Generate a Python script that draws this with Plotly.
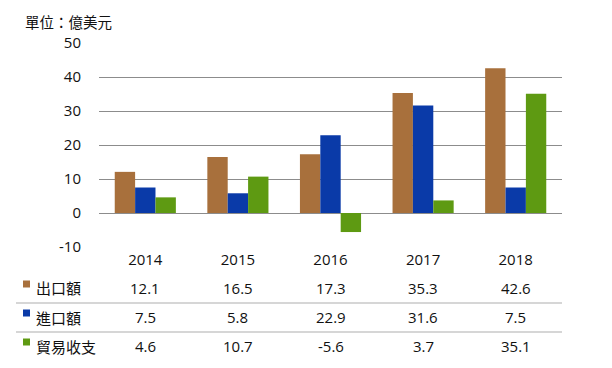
import plotly.graph_objects as go

years = ["2014", "2015", "2016", "2017", "2018"]
series_names = ["出口額", "進口額", "貿易收支"]
exports = [12.1, 16.5, 17.3, 35.3, 42.6]
imports = [7.5, 5.8, 22.9, 31.6, 7.5]
balance = [4.6, 10.7, -5.6, 3.7, 35.1]
colors = ["#A8703C", "#0A3AA8", "#5E9A12"]
unit_label = "單位：億美元"
y_ticks = [-10, 0, 10, 20, 30, 40, 50]
y_tick_text = ["-10", "0", "10", "20", "30", "40", "50"]

series_values = [exports, imports, balance]

# page body offset (default html body margin)
OFF = 8
W, H = 612, 368
# desired plot area in screen pixels
SX0, SX1, SY0, SY1 = 99, 562, 43, 247
L = SX0 - OFF
T = SY0 - OFF
PW = SX1 - SX0
PH = SY1 - SY0
R = W - L - PW
B = H - T - PH

def px_x(p):
    return (p - SX0) / PW

def px_y(p):
    return (SY1 - p) / PH

NUM_FONT = "Open Sans, Noto Sans CJK TC, sans-serif"
CJK_FONT = "Noto Sans CJK TC, sans-serif"

fig = go.Figure()
for name, vals, col in zip(series_names, series_values, colors):
    fig.add_trace(go.Bar(x=years, y=vals, name=name, marker=dict(color=col, line=dict(width=0)),
                         hoverinfo="x+y+name"))

annotations = []
shapes = []
row_y = [287.5, 317, 346]
marker_y = [284, 313, 342]
for i, (name, vals, col) in enumerate(zip(series_names, series_values, colors)):
    annotations.append(dict(x=px_x(34), y=px_y(row_y[i]), xref="paper", yref="paper",
                            text=name, showarrow=False, xanchor="left", yanchor="middle",
                            font=dict(family=CJK_FONT, size=15, color="#111")))
    shapes.append(dict(type="rect", xref="paper", yref="paper",
                       x0=px_x(23), x1=px_x(30), y0=px_y(marker_y[i] + 3.5), y1=px_y(marker_y[i] - 3.5),
                       fillcolor=col, line=dict(width=0)))
    for j, v in enumerate(vals):
        annotations.append(dict(x=j, y=px_y(row_y[i]), xref="x", yref="paper",
                                text=f"{v}", showarrow=False, xanchor="center", yanchor="middle",
                                font=dict(family=NUM_FONT, size=15, color="#111")))

for sep in [303, 332]:
    shapes.append(dict(type="line", xref="paper", yref="paper", x0=px_x(16), x1=1,
                       y0=px_y(sep), y1=px_y(sep), line=dict(color="#C8C8C8", width=1.5)))

annotations.append(dict(x=px_x(23), y=px_y(22), xref="paper", yref="paper", text=unit_label,
                        showarrow=False, xanchor="left", yanchor="middle",
                        font=dict(family=CJK_FONT, size=14.5, color="#111")))

fig.update_layout(
    width=W, height=H,
    margin=dict(l=L, r=R, t=T, b=B, autoexpand=False),
    paper_bgcolor="white", plot_bgcolor="white",
    barmode="group", bargap=0.34, bargroupgap=0,
    showlegend=False,
    annotations=annotations, shapes=shapes,
    xaxis=dict(type="category", range=[-0.5, len(years) - 0.5], showgrid=False, showline=False,
               zeroline=False, ticks="", ticklabelstandoff=2,
               tickfont=dict(family=NUM_FONT, size=15, color="#111")),
    yaxis=dict(range=[-10, 50], tickvals=y_ticks, ticktext=y_tick_text, showgrid=True,
               gridcolor="#8C8C8C", gridwidth=1.2,
               zeroline=True, zerolinecolor="#8C8C8C", zerolinewidth=1.2, showline=False,
               ticks="", ticklabelstandoff=17,
               tickfont=dict(family=NUM_FONT, size=15, color="#111")),
)

fig.write_html("out.html")
